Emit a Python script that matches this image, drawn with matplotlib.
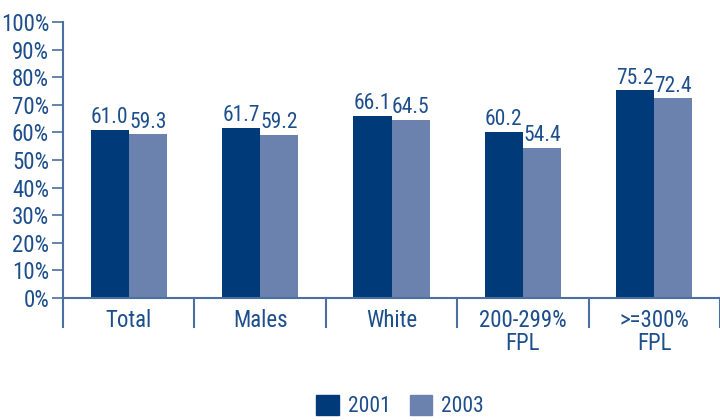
import numpy as np
import matplotlib.pyplot as plt
import matplotlib.patches as mpatches

categories = ['Total', 'Males', 'White', '200-299%\nFPL', '>=300%\nFPL']
vals_2001 = [61.0, 61.7, 66.1, 60.2, 75.2]
vals_2003 = [59.3, 59.2, 64.5, 54.4, 72.4]
yticks = [0, 10, 20, 30, 40, 50, 60, 70, 80, 90, 100]

dark = '#003a78'
light = '#6b82ae'
txt = '#1d4f8c'
line = '#4a6fa0'
fs = 16.5

plt.rcParams['font.family'] = ['Roboto Condensed', 'Archivo Narrow', 'Asap Condensed', 'DejaVu Sans']

fig = plt.figure(figsize=(7.2, 4.2), dpi=100)
ax = fig.add_axes([63 / 720, 122 / 420, 657 / 720, 276 / 420])

x = np.arange(len(categories)) + 0.5
w = 0.29
ax.bar(x - w / 2, vals_2001, w, color=dark, label='2001')
ax.bar(x + w / 2, vals_2003, w, color=light, label='2003')

for xi, v in zip(x - w / 2, vals_2001):
    ax.text(xi, v + 0.6, '%.1f' % v, ha='center', va='bottom', color=txt, fontsize=15.5)
for xi, v in zip(x + w / 2, vals_2003):
    ax.text(xi, v + 0.6, '%.1f' % v, ha='center', va='bottom', color=txt, fontsize=15.5)

ax.set_xlim(0, 5)
ax.set_ylim(0, 100)
ax.set_yticks(yticks)
ax.set_yticklabels(['%d%%' % t for t in yticks], color=txt, fontsize=fs)
ax.tick_params(axis='y', length=8, width=1.2, color=line, pad=2)
ax.set_xticks([])

for s in ['top', 'right']:
    ax.spines[s].set_visible(False)
for s in ['left', 'bottom']:
    ax.spines[s].set_color(line)
    ax.spines[s].set_linewidth(1.5)

# category separators below the axis
for i in range(len(categories) + 1):
    ax.plot([i, i], [0, -10.5], color=line, lw=1.5, clip_on=False)
for xi, c in zip(x, categories):
    ax.text(xi, -4.0, c, ha='center', va='top', color=txt, fontsize=fs, linespacing=1.0)

h1 = mpatches.Patch(color=dark, label='2001')
h2 = mpatches.Patch(color=light, label='2003')
fig.legend(handles=[h1, h2], loc='center', bbox_to_anchor=(400 / 720, 14 / 420), ncol=2,
           frameon=False, fontsize=15.5, labelcolor=txt, handlelength=1.05, handleheight=1.05,
           handletextpad=0.4, columnspacing=0.9)

fig.savefig('out.png', dpi=100)
